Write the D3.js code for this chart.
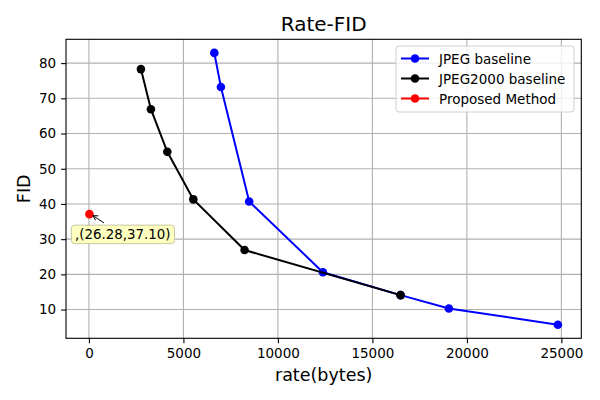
<!DOCTYPE html>
<html>
<head>
<meta charset="utf-8">
<script src="https://cdn.jsdelivr.net/npm/d3@7"></script>
<style>
  body { margin: 0; background: #fff; }
  svg { font-family: "DejaVu Sans", sans-serif; }
</style>
</head>
<body>
<div id="chart"></div>
<script>
// Data
const jpegRate = [6635, 6984, 8480, 12381, 16492, 19048, 24815];
const jpegFID = [82.9, 73.2, 40.7, 20.6, 14.1, 10.3, 5.7];
const j2kRate = [2751, 3280, 4148, 5524, 8238, 16492];
const j2kFID = [78.3, 66.9, 54.8, 41.3, 26.9, 14.1];
const propRate = [26.28];
const propFID = [37.10];
const xTicks = [0, 5000, 10000, 15000, 20000, 25000];
const yTicks = [10, 20, 30, 40, 50, 60, 70, 80];

const series = [
  { name: 'JPEG baseline', color: '#0000ff', x: jpegRate, y: jpegFID },
  { name: 'JPEG2000 baseline', color: '#000000', x: j2kRate, y: j2kFID },
  { name: 'Proposed Method', color: '#ff0000', x: propRate, y: propFID }
];

// Chart dimensions
const width = 600;
const height = 400;
const margin = { top: 39.3, right: 18.7, bottom: 61.7, left: 66 };

const svg = d3.select('#chart')
  .append('svg')
  .attr('width', width)
  .attr('height', height);

// Scales with matplotlib-like 5% padding
const allX = [].concat(...series.map(s => s.x));
const allY = [].concat(...series.map(s => s.y));
const [x0, x1] = d3.extent(allX);
const [y0, y1] = d3.extent(allY);
const xPad = (x1 - x0) * 0.05;
const yPad = (y1 - y0) * 0.05;

const xScale = d3.scaleLinear()
  .domain([x0 - xPad, x1 + xPad])
  .range([margin.left, width - margin.right]);

const yScale = d3.scaleLinear()
  .domain([y0 - yPad, y1 + yPad])
  .range([height - margin.bottom, margin.top]);

// Grid
const grid = svg.append('g').attr('stroke', '#b0b0b0').attr('stroke-width', 1.1);
grid.selectAll('.gx').data(xTicks).enter().append('line')
  .attr('x1', d => xScale(d)).attr('x2', d => xScale(d))
  .attr('y1', margin.top).attr('y2', height - margin.bottom);
grid.selectAll('.gy').data(yTicks).enter().append('line')
  .attr('x1', margin.left).attr('x2', width - margin.right)
  .attr('y1', d => yScale(d)).attr('y2', d => yScale(d));

// Lines and markers
const line = d3.line()
  .x(d => xScale(d[0]))
  .y(d => yScale(d[1]));

series.forEach(s => {
  const pts = s.x.map((v, i) => [v, s.y[i]]);
  svg.append('path')
    .datum(pts)
    .attr('fill', 'none')
    .attr('stroke', s.color)
    .attr('stroke-width', 2)
    .attr('d', line);
  svg.selectAll(null)
    .data(pts)
    .enter()
    .append('circle')
    .attr('cx', d => xScale(d[0]))
    .attr('cy', d => yScale(d[1]))
    .attr('r', 4.3)
    .attr('fill', s.color);
});

// Axes
const xAxis = svg.append('g')
  .attr('transform', `translate(0, ${height - margin.bottom})`)
  .call(d3.axisBottom(xScale).tickValues(xTicks).tickFormat(d3.format('d')).tickSizeOuter(0).tickSize(4.9).tickPadding(4.9));
const yAxis = svg.append('g')
  .attr('transform', `translate(${margin.left}, 0)`)
  .call(d3.axisLeft(yScale).tickValues(yTicks).tickSizeOuter(0).tickSize(4.9).tickPadding(4.9));
[xAxis, yAxis].forEach(a => {
  a.select('.domain').remove();
  a.selectAll('text').attr('font-size', 13.5).attr('fill', '#000').attr('font-family', 'DejaVu Sans');
  a.selectAll('line').attr('stroke', '#000').attr('stroke-width', 1.1);
});

// Frame
svg.append('rect')
  .attr('x', margin.left).attr('y', margin.top)
  .attr('width', width - margin.left - margin.right)
  .attr('height', height - margin.top - margin.bottom)
  .attr('fill', 'none')
  .attr('stroke', '#000')
  .attr('stroke-width', 1.1);

// Title and labels
svg.append('text')
  .attr('x', (margin.left + width - margin.right) / 2)
  .attr('y', 31)
  .attr('text-anchor', 'middle')
  .attr('font-size', 20)
  .text('Rate-FID');
svg.append('text')
  .attr('x', (margin.left + width - margin.right) / 2)
  .attr('y', 381)
  .attr('text-anchor', 'middle')
  .attr('font-size', 17.5)
  .text('rate(bytes)');
svg.append('text')
  .attr('transform', `translate(30, ${(margin.top + height - margin.bottom) / 2}) rotate(-90)`)
  .attr('text-anchor', 'middle')
  .attr('font-size', 17.5)
  .text('FID');

// Annotation
const px = xScale(propRate[0]);
const py = yScale(propFID[0]);
const label = `,(${propRate[0].toFixed(2)},${propFID[0].toFixed(2)})`;
const ann = svg.append('g');
ann.append('rect')
  .attr('x', px - 18).attr('y', py + 11)
  .attr('width', 103).attr('height', 18.5)
  .attr('rx', 3)
  .attr('fill', '#ffffc0')
  .attr('stroke', '#c8c8a0')
  .attr('stroke-width', 1);
ann.append('text')
  .attr('x', px - 14.5).attr('y', py + 25)
  .attr('font-size', 13.4)
  .text(label);
ann.append('line')
  .attr('x1', px + 14.5).attr('y1', py + 8.7)
  .attr('x2', px + 3.5).attr('y2', py + 1.5)
  .attr('stroke', '#000').attr('stroke-width', 1);
ann.append('path')
  .attr('d', `M${px + 9},${py + 1.7} L${px + 3.5},${py + 1.5} L${px + 6.2},${py + 6.2}`)
  .attr('fill', 'none').attr('stroke', '#000').attr('stroke-width', 1);

// Legend
const lg = svg.append('g').attr('transform', 'translate(396, 46)');
lg.append('rect')
  .attr('width', 178).attr('height', 66)
  .attr('rx', 3)
  .attr('fill', '#fff').attr('fill-opacity', 0.8)
  .attr('stroke', '#d0d0d0').attr('stroke-width', 1);
series.forEach((s, i) => {
  const y = 12.5 + i * 20;
  lg.append('line').attr('x1', 5).attr('x2', 33).attr('y1', y).attr('y2', y)
    .attr('stroke', s.color).attr('stroke-width', 2);
  lg.append('circle').attr('cx', 19).attr('cy', y).attr('r', 4.3).attr('fill', s.color);
  lg.append('text').attr('x', 43).attr('y', y + 5).attr('font-size', 13.5).text(s.name);
});
</script>
</body>
</html>
